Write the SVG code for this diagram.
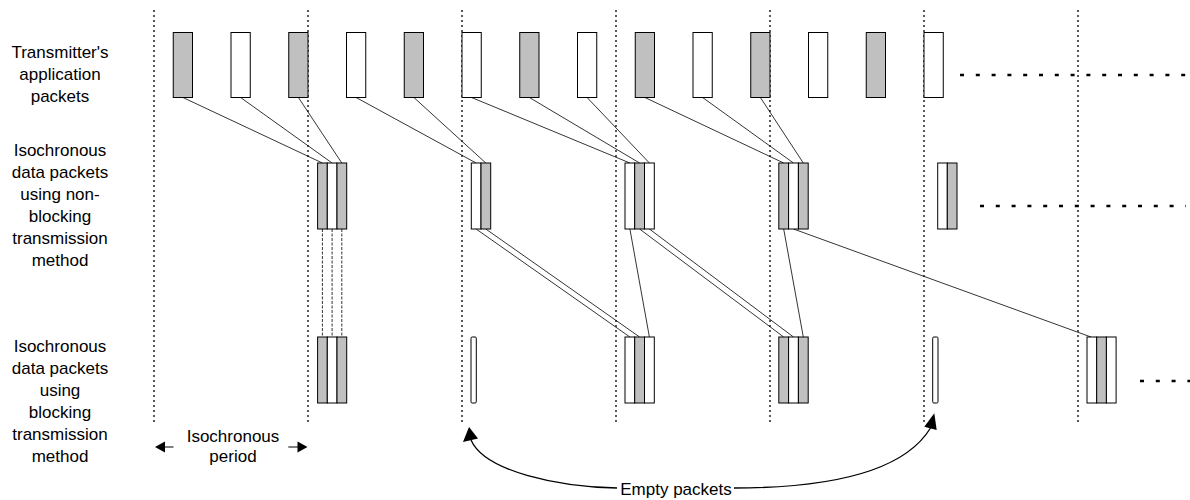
<svg xmlns="http://www.w3.org/2000/svg" width="1190" height="500" viewBox="0 0 1190 500">
<style>
.g{fill:#c0c0c0;stroke:#000;stroke-width:1}
.w{fill:#fff;stroke:#000;stroke-width:1}
.vd{stroke:#000;stroke-width:1.3;stroke-dasharray:2 3;fill:none}
.cn{stroke:#000;stroke-width:0.8;fill:none}
.dsh{stroke:#000;stroke-width:0.8;stroke-dasharray:3 1.5;fill:none}
.dots{stroke:#000;stroke-width:2.5;stroke-dasharray:4 11.8;fill:none}
.crv{stroke:#000;stroke-width:1.3;fill:none}
text{font-family:"Liberation Sans",Arial,sans-serif;font-size:17px;text-anchor:middle;fill:#000}
</style>
<rect width="1190" height="500" fill="#fff"/>
<g id="period-lines">
<line class="vd" x1="154" y1="10" x2="154" y2="425"/>
<line class="vd" x1="308" y1="10" x2="308" y2="425"/>
<line class="vd" x1="462" y1="10" x2="462" y2="425"/>
<line class="vd" x1="616" y1="10" x2="616" y2="425"/>
<line class="vd" x1="770" y1="10" x2="770" y2="425"/>
<line class="vd" x1="924" y1="10" x2="924" y2="425"/>
<line class="vd" x1="1078" y1="10" x2="1078" y2="425"/>
</g>
<g id="connectors">
<line class="cn" x1="182.9" y1="97.5" x2="322.4" y2="163"/>
<line class="cn" x1="240.6" y1="97.5" x2="332.1" y2="163"/>
<line class="cn" x1="298.4" y1="97.5" x2="341.8" y2="163"/>
<line class="cn" x1="356.1" y1="97.5" x2="476.1" y2="163"/>
<line class="cn" x1="413.9" y1="97.5" x2="485.8" y2="163"/>
<line class="cn" x1="471.6" y1="97.5" x2="629.9" y2="163"/>
<line class="cn" x1="529.4" y1="97.5" x2="639.6" y2="163"/>
<line class="cn" x1="587.1" y1="97.5" x2="649.4" y2="163"/>
<line class="cn" x1="644.9" y1="97.5" x2="783.7" y2="163"/>
<line class="cn" x1="702.6" y1="97.5" x2="793.5" y2="163"/>
<line class="cn" x1="760.4" y1="97.5" x2="803.3" y2="163"/>
<line class="dsh" x1="322.4" y1="229" x2="322.4" y2="337"/>
<line class="dsh" x1="332.1" y1="229" x2="332.1" y2="337"/>
<line class="dsh" x1="341.8" y1="229" x2="341.8" y2="337"/>
<line class="cn" x1="476.1" y1="229" x2="629.9" y2="337"/>
<line class="cn" x1="485.8" y1="229" x2="639.6" y2="337"/>
<line class="cn" x1="629.9" y1="229" x2="649.4" y2="337"/>
<line class="cn" x1="639.6" y1="229" x2="783.7" y2="337"/>
<line class="cn" x1="649.4" y1="229" x2="793.5" y2="337"/>
<line class="cn" x1="783.7" y1="229" x2="803.3" y2="337"/>
<line class="cn" x1="793.5" y1="229" x2="1091" y2="337"/>
</g>
<g id="row1-packets">
<rect class="g" x="173.25" y="32.5" width="19.25" height="65"/>
<rect class="w" x="231" y="32.5" width="19.25" height="65"/>
<rect class="g" x="288.75" y="32.5" width="19.25" height="65"/>
<rect class="w" x="346.5" y="32.5" width="19.25" height="65"/>
<rect class="g" x="404.25" y="32.5" width="19.25" height="65"/>
<rect class="w" x="462" y="32.5" width="19.25" height="65"/>
<rect class="g" x="519.75" y="32.5" width="19.25" height="65"/>
<rect class="w" x="577.5" y="32.5" width="19.25" height="65"/>
<rect class="g" x="635.25" y="32.5" width="19.25" height="65"/>
<rect class="w" x="693" y="32.5" width="19.25" height="65"/>
<rect class="g" x="750.75" y="32.5" width="19.25" height="65"/>
<rect class="w" x="808.5" y="32.5" width="19.25" height="65"/>
<rect class="g" x="866.25" y="32.5" width="19.25" height="65"/>
<rect class="w" x="924" y="32.5" width="19.25" height="65"/>
<line class="dots" x1="960" y1="75" x2="1186" y2="75"/>
</g>
<g id="row2-g1">
<rect class="g" x="317.6" y="163" width="9.7" height="66"/>
<rect class="w" x="327.3" y="163" width="9.7" height="66"/>
<rect class="g" x="337" y="163" width="9.7" height="66"/>
</g>
<g id="row2-g2">
<rect class="w" x="471.3" y="163" width="9.7" height="66"/>
<rect class="g" x="481" y="163" width="9.7" height="66"/>
</g>
<g id="row2-g3">
<rect class="w" x="625" y="163" width="9.7" height="66"/>
<rect class="g" x="634.7" y="163" width="9.8" height="66"/>
<rect class="w" x="644.5" y="163" width="9.8" height="66"/>
</g>
<g id="row2-g4">
<rect class="g" x="778.8" y="163" width="9.8" height="66"/>
<rect class="w" x="788.6" y="163" width="9.8" height="66"/>
<rect class="g" x="798.4" y="163" width="9.8" height="66"/>
</g>
<g id="row2-g5">
<rect class="w" x="937.7" y="163" width="9.6" height="66"/>
<rect class="g" x="947.3" y="163" width="9.7" height="66"/>
<line class="dots" x1="980" y1="206" x2="1186" y2="206"/>
</g>
<g id="row3-g1">
<rect class="g" x="317.6" y="337" width="9.7" height="66"/>
<rect class="w" x="327.3" y="337" width="9.7" height="66"/>
<rect class="g" x="337" y="337" width="9.7" height="66"/>
</g>
<g id="row3-empty1">
<rect class="w" x="471" y="337" width="5.3" height="66" rx="1.2"/>
</g>
<g id="row3-g3">
<rect class="w" x="625" y="337" width="9.7" height="66"/>
<rect class="g" x="634.7" y="337" width="9.8" height="66"/>
<rect class="w" x="644.5" y="337" width="9.8" height="66"/>
</g>
<g id="row3-g4">
<rect class="g" x="778.8" y="337" width="9.8" height="66"/>
<rect class="w" x="788.6" y="337" width="9.8" height="66"/>
<rect class="g" x="798.4" y="337" width="9.8" height="66"/>
</g>
<g id="row3-empty2">
<rect class="w" x="932.7" y="337" width="5.3" height="66" rx="1.2"/>
</g>
<g id="row3-g6">
<rect class="w" x="1087" y="337" width="9.7" height="66"/>
<rect class="g" x="1096.7" y="337" width="9.7" height="66"/>
<rect class="w" x="1106.4" y="337" width="9.7" height="66"/>
<line class="dots" x1="1140" y1="381" x2="1190" y2="381"/>
</g>
<g id="label-row1">
<text x="60" y="58">Transmitter's</text>
<text x="60" y="80">application</text>
<text x="60" y="102">packets</text>
</g>
<g id="label-row2">
<text x="60" y="156">Isochronous</text>
<text x="60" y="178">data packets</text>
<text x="60" y="200">using non-</text>
<text x="60" y="222">blocking</text>
<text x="60" y="244">transmission</text>
<text x="60" y="266">method</text>
</g>
<g id="label-row3">
<text x="60" y="352">Isochronous</text>
<text x="60" y="374">data packets</text>
<text x="60" y="396">using</text>
<text x="60" y="418">blocking</text>
<text x="60" y="440">transmission</text>
<text x="60" y="462">method</text>
</g>
<g id="isochronous-period">
<line class="cn" x1="164" y1="447" x2="173.5" y2="447" style="stroke-width:1"/>
<polygon points="155,447 165,441.5 165,452.5" fill="#000"/>
<line class="cn" x1="288.3" y1="447" x2="298" y2="447" style="stroke-width:1"/>
<polygon points="307.5,447 297.5,441.5 297.5,452.5" fill="#000"/>
<text x="233" y="442">Isochronous</text>
<text x="233" y="462">period</text>
</g>
<g id="empty-packets">
<path class="crv" d="M617,488 C560,487 485,472 471,440"/>
<polygon points="469,427 463,442 478,438.5" fill="#000"/>
<path class="crv" d="M734,488 C810,488 900,478 930.5,428"/>
<polygon points="934.3,413.3 924.3,426.7 936.7,430" fill="#000"/>
<text x="676" y="495">Empty packets</text>
</g>
</svg>
